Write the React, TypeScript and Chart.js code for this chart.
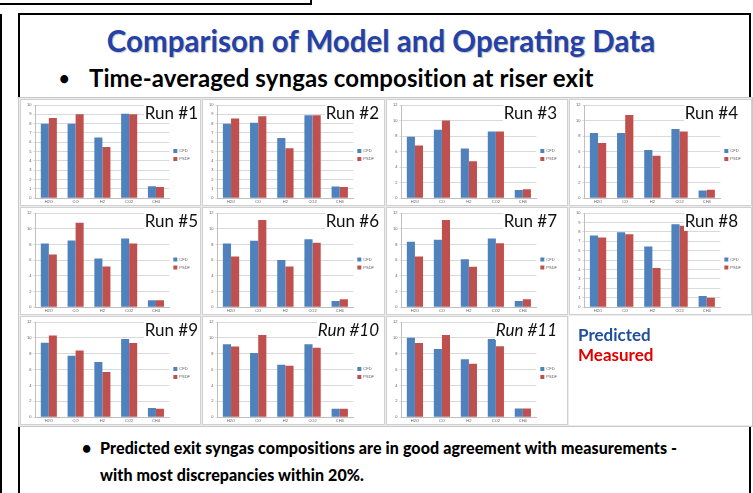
import React, { useEffect, useRef } from "react";
import { Chart, registerables } from "chart.js";

Chart.register(...registerables);

const categories = ["H2O", "CO", "H2", "CO2", "CH4"];
const legendLabels = ["CFD", "PSDF"];

const run1Predicted = [8.0, 8.0, 6.5, 9.05, 1.27];
const run1Measured = [8.6, 9.0, 5.5, 9.0, 1.2];
const run2Predicted = [8.0, 8.1, 6.45, 8.9, 1.25];
const run2Measured = [8.55, 8.8, 5.35, 8.9, 1.2];
const run3Predicted = [7.9, 8.8, 6.4, 8.6, 1.07];
const run3Measured = [6.8, 10.0, 4.75, 8.6, 1.15];
const run4Predicted = [8.4, 8.4, 6.2, 8.9, 1.0];
const run4Measured = [7.1, 10.7, 5.45, 8.6, 1.1];
const run5Predicted = [8.1, 8.5, 6.2, 8.75, 0.9];
const run5Measured = [6.7, 10.75, 5.2, 8.1, 0.9];
const run6Predicted = [8.1, 8.45, 6.0, 8.65, 0.8];
const run6Measured = [6.45, 11.1, 5.2, 8.2, 1.0];
const run7Predicted = [8.35, 8.6, 6.1, 8.75, 0.8];
const run7Measured = [6.45, 11.1, 5.15, 8.15, 1.0];
const run8Predicted = [7.6, 7.95, 6.45, 8.8, 1.2];
const run8Measured = [7.4, 7.75, 4.15, 8.65, 1.0];
const run9Predicted = [9.4, 7.75, 6.95, 9.85, 1.15];
const run9Measured = [10.3, 8.4, 5.7, 9.35, 1.05];
const run10Predicted = [9.2, 8.1, 6.6, 9.2, 1.05];
const run10Measured = [8.9, 10.35, 6.5, 8.75, 1.05];
const run11Predicted = [10.0, 8.6, 7.3, 9.85, 1.1];
const run11Measured = [9.35, 10.35, 6.75, 8.95, 1.1];

const runTitles = ["Run #1", "Run #2", "Run #3", "Run #4", "Run #5", "Run #6", "Run #7", "Run #8", "Run #9", "Run #10", "Run #11"];
const yMax = [10, 10, 12, 12, 12, 12, 12, 10, 12, 12, 12];
const yStep = [1, 1, 2, 2, 2, 2, 2, 1, 2, 2, 2];

const predictedSeries = [run1Predicted, run2Predicted, run3Predicted, run4Predicted, run5Predicted, run6Predicted, run7Predicted, run8Predicted, run9Predicted, run10Predicted, run11Predicted];
const measuredSeries = [run1Measured, run2Measured, run3Measured, run4Measured, run5Measured, run6Measured, run7Measured, run8Measured, run9Measured, run10Measured, run11Measured];

const colLeft = [20, 202, 386, 569];
const colWidth = [181, 183, 182, 183];
const rowTop = [99, 207, 316];
const rowHeight = [107, 108, 109];
const titleRight = [1, 4, 9, 12];

const BLUE = "#4F81BD";
const RED = "#C0504D";

function RunChart({ idx }: { idx: number }) {
  const ref = useRef<HTMLCanvasElement>(null);
  const col = idx % 4;
  const row = Math.floor(idx / 4);
  const w = colWidth[col];
  const h = rowHeight[row];
  useEffect(() => {
    if (!ref.current) return;
    const chart = new Chart(ref.current, {
      type: "bar",
      data: {
        labels: categories,
        datasets: [
          { label: legendLabels[0], data: predictedSeries[idx], backgroundColor: BLUE, categoryPercentage: 0.6, barPercentage: 1.0 },
          { label: legendLabels[1], data: measuredSeries[idx], backgroundColor: RED, categoryPercentage: 0.6, barPercentage: 1.0 },
        ],
      },
      options: {
        animation: false,
        responsive: false,
        maintainAspectRatio: false,
        layout: { padding: { top: 5, right: 0, bottom: 0, left: 4 } },
        plugins: {
          legend: {
            position: "right",
            labels: { boxWidth: 4, boxHeight: 4, font: { size: 4 }, padding: 4, color: "#595959" },
          },
          title: { display: false },
          tooltip: { enabled: false },
        },
        scales: {
          x: {
            grid: { display: false, drawTicks: false, tickLength: 0 },
            border: { color: "#BFBFBF" },
            ticks: { font: { size: 4 }, color: "#595959", padding: 1, maxRotation: 0 },
          },
          y: {
            min: 0,
            max: yMax[idx],
            ticks: { stepSize: yStep[idx], font: { size: 4 }, color: "#595959", padding: 2 },
            grid: { color: "#D9D9D9", tickLength: 2 },
            border: { color: "#BFBFBF" },
          },
        },
      },
    });
    return () => chart.destroy();
  }, [idx]);
  return (
    <div
      style={{
        position: "absolute",
        left: colLeft[col],
        top: rowTop[row],
        width: w,
        height: h,
        background: "#fff",
        border: "1px solid #D0D0D0",
        boxSizing: "border-box",
      }}
    >
      <canvas ref={ref} width={w - 2} height={h - 2} style={{ width: w - 2, height: h - 2, display: "block" }} />
      <div
        style={{
          position: "absolute",
          right: titleRight[col],
          top: 3,
          background: "#fff",
          fontFamily: "Lato, 'Open Sans', sans-serif",
          fontSize: 17,
          fontStyle: idx >= 9 ? "italic" : "normal",
          color: "#111",
          lineHeight: "20px",
          padding: "0 1px",
        }}
      >
        {runTitles[idx]}
      </div>
    </div>
  );
}

export default function App() {
  useEffect(() => {
    document.body.style.margin = "0";
  }, []);
  const idxs = [0, 1, 2, 3, 4, 5, 6, 7, 8, 9, 10];
  return (
    <div style={{ position: "fixed", left: 0, top: 0, width: 753, height: 493, background: "#fff", overflow: "hidden", fontFamily: "Lato, sans-serif" }}>
      <div style={{ position: "absolute", left: 0, top: 3, width: 312, height: 2, background: "#000" }} />
      <div style={{ position: "absolute", left: 310, top: 0, width: 2, height: 5, background: "#000" }} />
      <div style={{ position: "absolute", left: 0, top: 14, width: 2, height: 479, background: "#000" }} />
      <div style={{ position: "absolute", left: 18, top: 13, width: 733, height: 500, border: "2px solid #000", boxSizing: "border-box" }} />

      <div style={{ position: "absolute", left: 0, width: 762, top: 23, textAlign: "center", fontSize: 29.5, fontWeight: 700, color: "#2441A8", lineHeight: "36px", textShadow: "1px 1px 1px rgba(0,0,0,0.25)" }}>
        Comparison of Model and Operating Data
      </div>
      <div style={{ position: "absolute", left: 59, top: 63, fontSize: 24, fontWeight: 700, color: "#000", lineHeight: "30px", whiteSpace: "nowrap", letterSpacing: 0.1 }}>
        <span style={{ display: "inline-block", width: 30, fontSize: 18, verticalAlign: "top" }}>•</span>Time-averaged syngas composition at riser exit
      </div>

      <div style={{ position: "absolute", left: 18, top: 97, width: 735, height: 330, background: "#EDEDED", border: "1px solid #C8C8C8", boxSizing: "border-box" }} />
      <div style={{ position: "absolute", left: 569, top: 316, width: 183, height: 109, background: "#fff" }} />

      {idxs.map((i) => (
        <RunChart key={i} idx={i} />
      ))}

      <div style={{ position: "absolute", left: 578, top: 325, fontSize: 17, fontWeight: 700, color: "#1F4E9A", lineHeight: "20px" }}>Predicted</div>
      <div style={{ position: "absolute", left: 578, top: 345, fontSize: 17, fontWeight: 700, color: "#E00000", lineHeight: "20px" }}>Measured</div>

      <div style={{ position: "absolute", left: 82, top: 434, width: 660, fontSize: 16, fontWeight: 900, color: "#000", lineHeight: "27px", letterSpacing: 0.1 }}>
        <div style={{ whiteSpace: "nowrap" }}>
          <span style={{ display: "inline-block", width: 18 }}>•</span>Predicted exit syngas compositions are in good agreement with measurements -
        </div>
        <div style={{ whiteSpace: "nowrap", paddingLeft: 18 }}>with most discrepancies within 20%.</div>
      </div>
    </div>
  );
}
